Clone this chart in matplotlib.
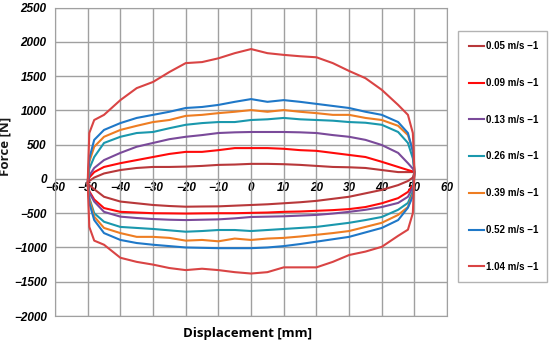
import matplotlib
matplotlib.use("Agg")
import matplotlib.pyplot as plt

# --- Datos ---
x_up = [-50, -49.5, -48, -45, -40, -35, -30, -25, -20, -15, -10, -5, 0,
        5, 10, 15, 20, 25, 30, 35, 40, 45, 48, 49.5, 50]
x_down = x_up[::-1]

labels = ["0.05 m/s \u22121", "0.09 m/s \u22121", "0.13 m/s \u22121", "0.26 m/s \u22121",
          "0.39 m/s \u22121", "0.52 m/s \u22121", "1.04 m/s \u22121"]
colors = ["#b8383a", "#ff0a0a", "#7a4a9a", "#1a98ad", "#ee7d22", "#1f78c8", "#d94444"]

up_005 = [-60, -30, 20, 80, 130, 160, 175, 175, 180, 190, 205, 210, 220,
          220, 215, 205, 190, 175, 170, 160, 130, 100, 100, 100, 100]
dn_005 = [100, 20, -30, -90, -160, -210, -260, -290, -320, -340, -355, -370, -380,
          -390, -400, -402, -405, -395, -380, -355, -330, -260, -150, -90, -60]

up_009 = [-60, 20, 100, 175, 230, 275, 320, 365, 395, 395, 420, 450, 450,
          450, 440, 420, 410, 380, 350, 320, 250, 175, 130, 110, 100]
dn_009 = [100, -90, -190, -280, -355, -410, -440, -455, -465, -475, -480, -490, -495,
          -500, -500, -502, -505, -502, -500, -490, -480, -425, -300, -180, -60]

up_013 = [-60, 50, 160, 275, 380, 470, 525, 580, 615, 640, 670, 680, 685,
          685, 685, 680, 670, 640, 615, 570, 495, 380, 230, 150, 100]
dn_013 = [100, -120, -260, -350, -410, -450, -480, -505, -525, -535, -545, -550, -555,
          -575, -590, -595, -600, -595, -585, -570, -550, -480, -330, -200, -60]

up_026 = [-60, 150, 320, 525, 615, 670, 685, 740, 790, 815, 830, 830, 860,
          870, 890, 870, 860, 850, 830, 820, 790, 685, 525, 300, 100]
dn_026 = [100, -180, -350, -450, -555, -600, -640, -670, -700, -715, -730, -745, -760,
          -745, -745, -760, -770, -750, -730, -715, -700, -625, -500, -280, -60]

up_039 = [-60, 250, 470, 615, 715, 775, 830, 860, 920, 935, 960, 980, 1005,
          980, 1005, 980, 960, 935, 935, 890, 860, 775, 640, 420, 100]
dn_039 = [100, -220, -410, -525, -640, -700, -760, -790, -815, -840, -860, -870, -890,
          -870, -910, -890, -900, -860, -845, -845, -790, -715, -550, -300, -60]

up_052 = [-60, 300, 570, 715, 815, 890, 935, 980, 1035, 1050, 1080, 1125, 1165,
          1125, 1150, 1125, 1095, 1065, 1035, 980, 935, 830, 670, 400, 100]
dn_052 = [100, -250, -420, -600, -715, -780, -845, -880, -915, -950, -980, -1000, -1010,
          -1010, -1010, -1005, -1000, -980, -960, -935, -890, -790, -600, -350, -60]

up_104 = [-60, 670, 860, 935, 1150, 1325, 1415, 1560, 1690, 1705, 1760, 1835, 1895,
          1835, 1810, 1790, 1775, 1690, 1575, 1470, 1300, 1080, 935, 670, 100]
dn_104 = [100, -500, -740, -830, -990, -1060, -1110, -1210, -1290, -1290, -1290, -1360, -1380,
          -1360, -1330, -1310, -1330, -1300, -1250, -1210, -1150, -960, -900, -700, -60]

ups = [up_005, up_009, up_013, up_026, up_039, up_052, up_104]
downs = [dn_005, dn_009, dn_013, dn_026, dn_039, dn_052, dn_104]

# --- Gráfica ---
fig = plt.figure(figsize=(5.5, 3.45), dpi=100)
ax = fig.add_axes([0.1, 0.084, 0.713, 0.894])

for up, dn, c, lab in zip(ups, downs, colors, labels):
    ax.plot(x_up + x_down, up + dn, color=c, lw=1.5, label=lab)

ax.set_xlim(-60, 60)
ax.set_ylim(-2000, 2500)
ax.set_xticks(range(-60, 61, 10))
ax.set_yticks(range(-2000, 2501, 500))
ax.grid(True, color="#a0a0a0", lw=1)
ax.set_axisbelow(True)
for s in ax.spines.values():
    s.set_color("#a0a0a0")

tick_font = dict(family="Liberation Sans", weight="bold", style="italic", size=8.5)
ax.tick_params(length=0, pad=6)
ax.set_xticklabels([])
for t in ax.get_yticklabels():
    t.set(**tick_font)

# etiquetas del eje x sobre la línea de cero
sec = ax.secondary_xaxis(2000 / 4500)
sec.set_xticks(range(-60, 61, 10))
sec.tick_params(length=0, pad=2)
sec.spines["bottom"].set_visible(False)
for t in sec.get_xticklabels():
    t.set(**tick_font)

ax.set_xlabel("Displacement [mm]", family="Open Sans", weight="bold", size=9.5)
ax.xaxis.set_label_coords(0.49, -0.035)
ax.set_ylabel("Force [N]", family="Open Sans", weight="bold", size=9.5, color="#1a1a1a")
ax.yaxis.set_label_coords(-0.11, 0.55)

leg = fig.legend(loc="center", bbox_to_anchor=(0.833, 0.18, 0.162, 0.733),
                 mode="expand", fancybox=False, edgecolor="#a0a0a0",
                 prop=dict(family="Liberation Sans", weight="bold", size=7),
                 labelspacing=2.75, handlelength=1.6, handletextpad=0.2,
                 borderpad=1.1, borderaxespad=0)
leg.get_frame().set_linewidth(1)

fig.savefig("out.png", dpi=100)
